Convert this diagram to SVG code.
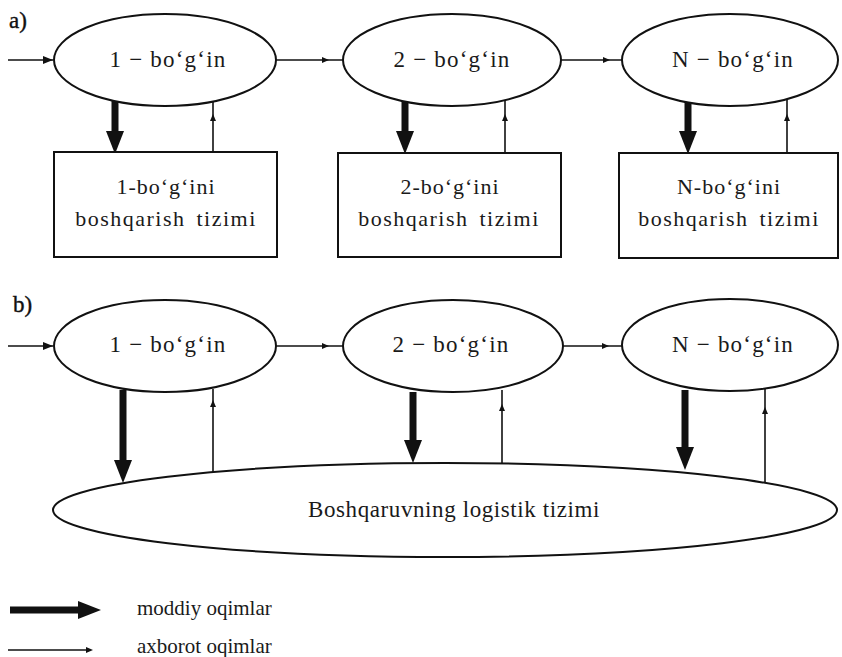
<svg xmlns="http://www.w3.org/2000/svg" width="842" height="657" viewBox="0 0 842 657">
<style>
.n{fill:#fff;stroke:#111;stroke-width:2}
.t{font-family:"Liberation Serif","Times New Roman",serif;font-size:23px;fill:#1a1a1a;text-anchor:middle;letter-spacing:1.2px}
.bt{font-family:"Liberation Serif","Times New Roman",serif;font-size:22px;fill:#1a1a1a;text-anchor:middle;letter-spacing:1px}
.bt2{letter-spacing:1.5px;word-spacing:4px}
.lbl{font-family:"Liberation Serif","Times New Roman",serif;font-size:21px;fill:#1a1a1a}
.ab{font-family:"Liberation Serif","Times New Roman",serif;font-size:23px;fill:#111;stroke:#111;stroke-width:0.4}
.thin{stroke:#111;stroke-width:1.6;fill:none}
.thick{stroke:#111;stroke-width:7;fill:none}
</style>
<defs>
<marker id="ah" markerUnits="userSpaceOnUse" markerWidth="12" markerHeight="10" refX="10" refY="5" orient="auto"><path d="M0,1 L10,5 L0,9 Z" fill="#111"/></marker>
<marker id="am" markerUnits="userSpaceOnUse" markerWidth="8" markerHeight="8" refX="4" refY="4" orient="auto"><path d="M0,1 L7,4 L0,7 Z" fill="#111"/></marker>
<marker id="big" markerUnits="userSpaceOnUse" markerWidth="24" markerHeight="20" refX="0" refY="10" orient="auto"><path d="M0,1 L23,10 L0,19 Z" fill="#111"/></marker>
</defs>

<text class="ab" x="9" y="28">a)</text>
<text class="ab" x="13" y="312">b)</text>

<g id="connectors">
<!-- row a -->
<path class="thin" d="M8,60 L53,60" marker-end="url(#ah)"/>
<path class="thin" d="M276,60 L326,60 L343,60" marker-mid="url(#am)"/>
<path class="thin" d="M561,60 L607,60 L622,60" marker-mid="url(#am)"/>
<path class="thick" d="M115,101 L115,131" marker-end="url(#big)"/>
<path class="thin" d="M213,152 L213,117 L213,101" marker-mid="url(#am)"/>
<path class="thick" d="M405,102 L405,131" marker-end="url(#big)"/>
<path class="thin" d="M505,152 L505,117 L505,100" marker-mid="url(#am)"/>
<path class="thick" d="M688,101 L688,131" marker-end="url(#big)"/>
<path class="thin" d="M787,152 L787,117 L787,98" marker-mid="url(#am)"/>
<!-- row b -->
<path class="thin" d="M8,346 L53,346" marker-end="url(#ah)"/>
<path class="thin" d="M276,346 L326,346 L343,346" marker-mid="url(#am)"/>
<path class="thin" d="M563,346 L606,346 L622,346" marker-mid="url(#am)"/>
<path class="thick" d="M123,390 L123,460" marker-end="url(#big)"/>
<path class="thin" d="M213,472 L213,403 L213,389" marker-mid="url(#am)"/>
<path class="thick" d="M413,392 L413,440" marker-end="url(#big)"/>
<path class="thin" d="M502,464 L502,407 L502,390" marker-mid="url(#am)"/>
<path class="thick" d="M685,390 L685,447" marker-end="url(#big)"/>
<path class="thin" d="M765,483 L765,410 L765,389" marker-mid="url(#am)"/>
</g>

<g id="a1"><ellipse class="n" cx="165" cy="60" rx="111" ry="46"/><text class="t" x="168" y="67">1 − bo‘g‘in</text></g>
<g id="a2"><ellipse class="n" cx="452" cy="60" rx="109" ry="46"/><text class="t" x="452" y="67">2 − bo‘g‘in</text></g>
<g id="aN"><ellipse class="n" cx="730" cy="60" rx="108" ry="46"/><text class="t" x="733" y="67">N − bo‘g‘in</text></g>

<g id="s1"><rect class="n" x="54" y="152" width="223" height="105"/><text class="bt" x="166" y="194">1-bo‘g‘ini</text><text class="bt bt2" x="166" y="226">boshqarish tizimi</text></g>
<g id="s2"><rect class="n" x="338" y="153" width="223" height="104"/><text class="bt" x="450" y="194">2-bo‘g‘ini</text><text class="bt bt2" x="449" y="226">boshqarish tizimi</text></g>
<g id="sN"><rect class="n" x="619" y="153" width="219" height="105"/><text class="bt" x="729" y="194">N-bo‘g‘ini</text><text class="bt bt2" x="729" y="226">boshqarish tizimi</text></g>

<g id="b1"><ellipse class="n" cx="165" cy="346" rx="111" ry="46"/><text class="t" x="168" y="352">1 − bo‘g‘in</text></g>
<g id="b2"><ellipse class="n" cx="453" cy="346" rx="110" ry="46"/><text class="t" x="451" y="352">2 − bo‘g‘in</text></g>
<g id="bN"><ellipse class="n" cx="730" cy="345" rx="108" ry="46"/><text class="t" x="733" y="352">N − bo‘g‘in</text></g>

<g id="log"><ellipse class="n" cx="445" cy="510" rx="392" ry="47"/><text class="t" x="454" y="517" style="letter-spacing:0.6px">Boshqaruvning logistik tizimi</text></g>

<g id="legend">
<path class="thick" d="M10,610 L78,610" marker-end="url(#big)"/>
<text class="lbl" x="137" y="615">moddiy oqimlar</text>
<path class="thin" d="M8,650 L78,650 L90,650" marker-end="url(#am)"/>
<text class="lbl" x="137" y="653">axborot oqimlar</text>
</g>
</svg>
